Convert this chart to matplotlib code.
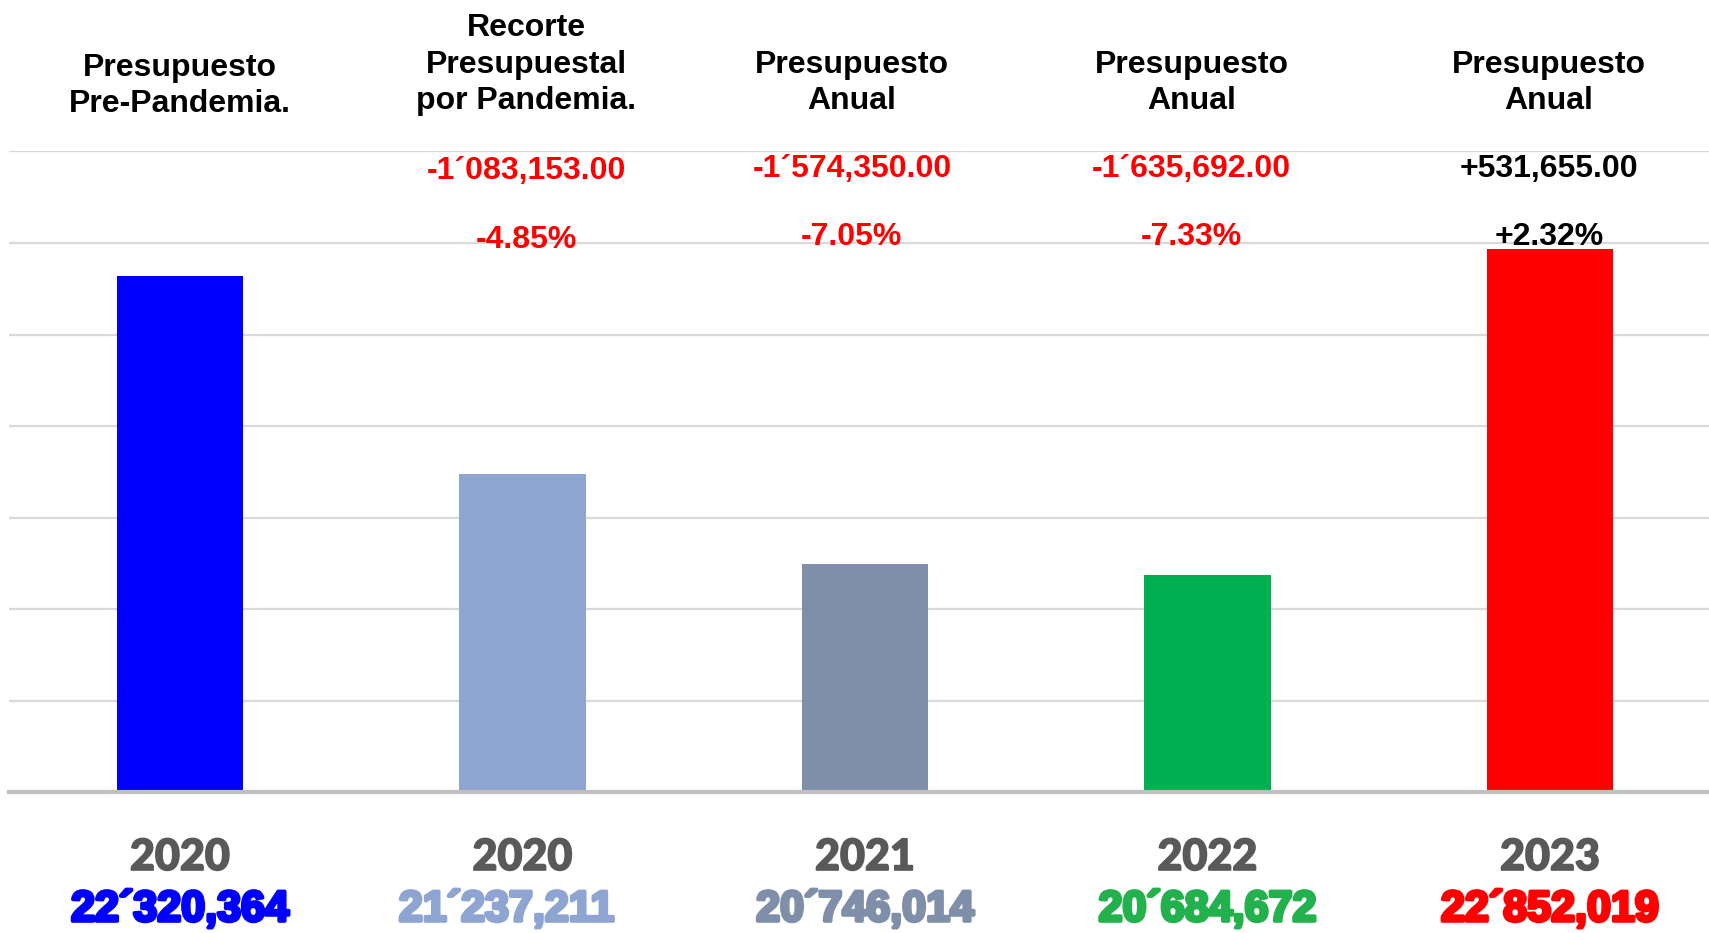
import matplotlib
matplotlib.use("Agg")
import matplotlib.pyplot as plt
import matplotlib.transforms as mtransforms
import matplotlib.patheffects as pe
import numpy as np

# ---------------- data ----------------
years = ["2020", "2020", "2021", "2022", "2023"]
headers = ["Presupuesto\nPre-Pandemia.",
           "Recorte\nPresupuestal\npor Pandemia.",
           "Presupuesto\nAnual",
           "Presupuesto\nAnual",
           "Presupuesto\nAnual"]
budget_labels = ["22´320,364", "21´237,211", "20´746,014", "20´684,672", "22´852,019"]
# bar heights as drawn in the reference (2023 bar is drawn shorter than its label)
bar_values = [22320364, 21237211, 20746014, 20684672, 22470000]
diff_labels = ["", "-1´083,153.00", "-1´574,350.00", "-1´635,692.00", "+531,655.00"]
pct_labels = ["", "-4.85%", "-7.05%", "-7.33%", "+2.32%"]

bar_colors = ["#0000FF", "#8FA5D1", "#7F8FA9", "#00B050", "#FF0000"]
value_colors = ["#0000FF", "#8FA5D1", "#7F8FA9", "#22B14C", "#FF0000"]
diff_colors = ["#FF0000", "#FF0000", "#FF0000", "#FF0000", "#000000"]

# ---------------- layout ----------------
W, H = 1709, 933
fig = plt.figure(figsize=(W / 100, H / 100), dpi=100)
left_px, bottom_px, top_px = 8.7, 792.4, 151.5
slot_px = 342.5
ax = fig.add_axes([left_px / W, 1 - bottom_px / H, slot_px * 5 / W, (bottom_px - top_px) / H])

x = np.arange(len(years))
ax.bar(x, bar_values, width=0.37, color=bar_colors, zorder=3)
ax.set_xlim(-0.5, 4.5)
ax.set_ylim(19.5e6, 23.0e6)
ax.set_yticks(np.arange(19.5e6, 23.0e6 + 1, 0.5e6))
ax.yaxis.grid(True, color="#d9d9d9", lw=1.6)
ax.set_axisbelow(True)
ax.tick_params(left=False, bottom=False, labelleft=False, labelbottom=False)
for s in ax.spines.values():
    s.set_visible(False)
ax.axhline(19.5e6, color="#bfbfbf", lw=3, zorder=4, clip_on=False)

trans = mtransforms.blended_transform_factory(ax.transData, fig.transFigure)


def fy(px):
    return 1 - px / H


head_font = dict(family=["Liberation Sans", "DejaVu Sans"], weight="bold", fontsize=23)
header_dx = [0, 0.012, -0.038, -0.046, -0.003]
header_y = [86, 64.5, 83, 83, 83]
diff_y = [170, 171, 169, 169, 169]
pct_y = [239, 240, 237, 237, 237]
value_dx = [0, -0.046, 0, 0, 0]

for i in x:
    ax.text(i + header_dx[i], fy(header_y[i]), headers[i], transform=trans,
            ha="center", va="center", linespacing=1.3, **head_font)
    if diff_labels[i]:
        ax.text(i + header_dx[i], fy(diff_y[i]), diff_labels[i], transform=trans,
                ha="center", va="center", color=diff_colors[i], **head_font)
        ax.text(i + header_dx[i], fy(pct_y[i]), pct_labels[i], transform=trans,
                ha="center", va="center", color=diff_colors[i], zorder=5, **head_font)
    yt = ax.text(i, fy(857), years[i], transform=trans, ha="center", va="center",
                 family=["Lato", "DejaVu Sans"], weight=900, fontsize=31, color="#595959")
    yt.set_path_effects([pe.Stroke(linewidth=1.2, foreground="#595959"), pe.Normal()])
    t = ax.text(i + value_dx[i], fy(910), budget_labels[i], transform=trans,
                ha="center", va="center", family=["Liberation Sans", "DejaVu Sans"],
                weight="bold", fontsize=31, color=value_colors[i])
    t.set_path_effects([pe.Stroke(linewidth=2.6, foreground=value_colors[i]), pe.Normal()])

fig.savefig("out.png", dpi=100, facecolor="white")
